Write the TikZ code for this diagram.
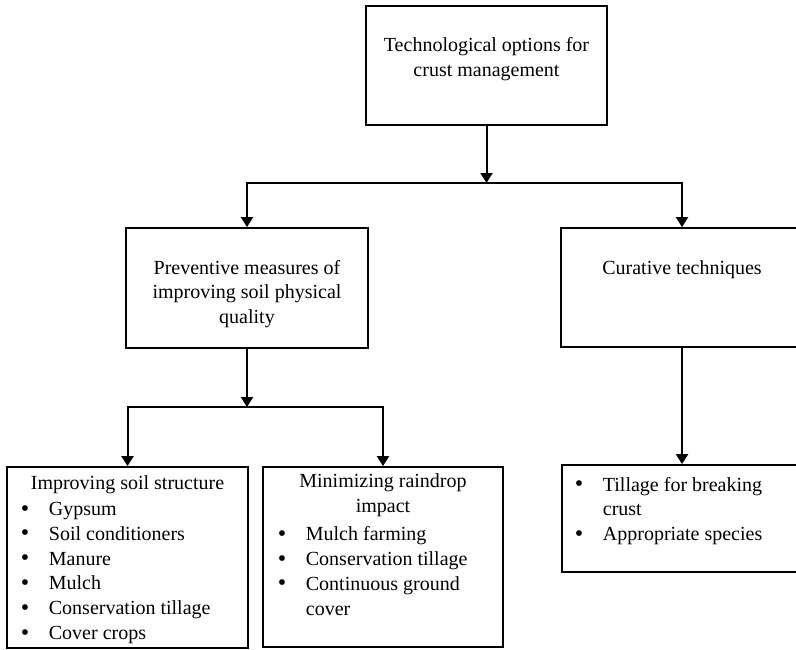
\documentclass[tikz,border=0pt]{standalone}
\usepackage{fontspec}
\setmainfont{Liberation Serif}
\usetikzlibrary{arrows.meta}
\newcommand{\blt}{\makebox[14pt][l]{\raisebox{-0.3pt}{\large\textbullet}}}
\newcommand{\cnt}{\hspace*{14pt}}

\begin{document}
\begin{tikzpicture}[x=0.5pt,y=-0.5pt,
  optbox/.style={draw=black, line width=0.9pt, inner sep=0pt},
  txt/.style={black, font=\fontsize{10}{12.4}\selectfont, inner sep=0pt, align=center},
  lst/.style={txt, align=left, anchor=west},
  lnk/.style={black, line width=1pt, line cap=rect},
  arr/.style={black, line width=1pt, -{Triangle[width=6pt,length=5pt]}}]
\useasboundingbox (0,0) rectangle (796,649);
\clip (0,0) rectangle (796,649);
% boxes
\node[optbox, minimum width=120.5pt, minimum height=59.5pt] (opt) at (486.5,65.5) {};
\node[txt] (optT) at (486.5,59) {Technological options for\\crust management};
\node[optbox, minimum width=121pt, minimum height=60pt] (prev) at (247,288) {};
\node[txt] (prevT) at (247,294) {Preventive measures of\\improving soil physical\\quality};
\node[optbox, minimum width=121pt, minimum height=59.5pt] (cur) at (682,287.5) {};
\node[txt] (curT) at (682,270) {Curative techniques};
\node[optbox, minimum width=120.5pt, minimum height=90.5pt] (soil) at (127.5,557.5) {};
\node[txt] (soilT) at (127.5,485) {Improving soil structure};
\node[lst] (soilL) at (20.5,573) {\blt Gypsum\\\blt Soil conditioners\\\blt Manure\\\blt Mulch\\\blt Conservation tillage\\\blt Cover crops};
\node[optbox, minimum width=120pt, minimum height=90pt] (rain) at (383,557) {};
\node[txt] (rainT) at (383,495) {Minimizing raindrop\\impact};
\node[lst] (rainL) at (277.5,571) {\blt Mulch farming\\\blt Conservation tillage\\\blt Continuous ground\\\cnt cover};
\node[optbox, minimum width=120pt, minimum height=53.5pt] (till) at (682,518.5) {};
\node[lst] (tillL) at (574.5,511) {\blt Tillage for breaking\\\cnt crust\\\blt Appropriate species};
% junctions
\coordinate (jt) at (486.5,183);
\coordinate (jl) at (247,183);
\coordinate (jr) at (682,183);
\coordinate (jm) at (247,407);
\coordinate (jml) at (127.5,407);
\coordinate (jmr) at (383,407);
% connectors
\draw[arr] (opt.south) -- (jt);
\draw[lnk] (jl) -- (jr);
\draw[arr] (jl) -- (prev.north);
\draw[arr] (jr) -- (cur.north);
\draw[arr] (prev.south) -- (jm);
\draw[lnk] (jml) -- (jmr);
\draw[arr] (jml) -- (soil.north);
\draw[arr] (jmr) -- (rain.north);
\draw[arr] (cur.south) -- (till.north);
\end{tikzpicture}
\end{document}
